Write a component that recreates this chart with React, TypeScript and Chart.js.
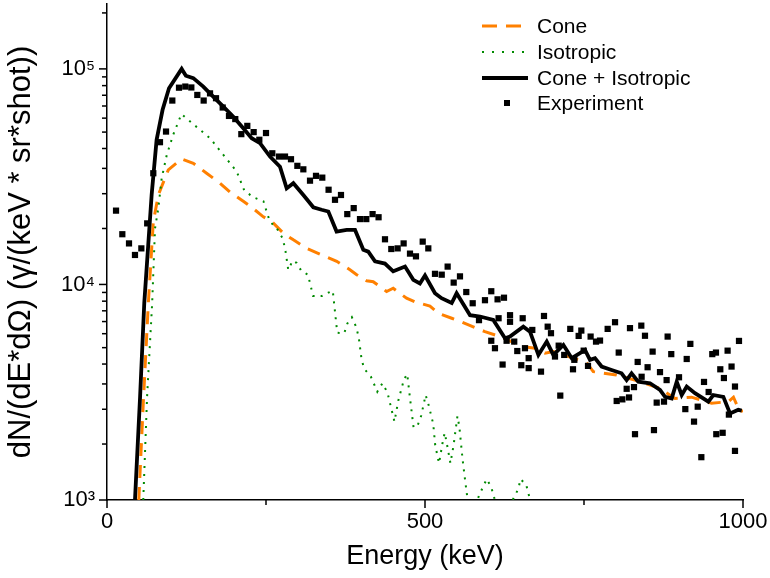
import React, { useEffect, useRef } from 'react';
import { Chart, registerables } from 'chart.js';

Chart.register(...registerables);

// ---------- data ----------
const coneEnergy = [50, 57, 65, 72.8, 80.7, 96.4, 117.3, 135.7, 156.6, 177.7, 193.4, 214.3, 227.5, 245.8, 258.9, 277.2, 293, 314, 342.8, 361.2, 382, 392.6, 408.3, 418.6, 439.6, 450, 471, 484.3, 507.8, 521, 542, 557.7, 581.3, 594.3, 617.9, 654.6, 673, 688.7, 701.8, 717.6, 754, 764.6, 801, 830, 869, 893, 919, 950.6, 977, 985, 995, 1000];
const coneValue = [1000, 2800, 8200, 19500, 26000, 34000, 38200, 36500, 32800, 29500, 26800, 24300, 22800, 20600, 19600, 17300, 16100, 14700, 13500, 12800, 11700, 11100, 10400, 10300, 9270, 9600, 8630, 8300, 7940, 7350, 6970, 6700, 6260, 6040, 5730, 5140, 5060, 4800, 4880, 4710, 4340, 3940, 3800, 3600, 3300, 2960, 3000, 2810, 2860, 3000, 2570, 2600];

const isoEnergy = [57, 63, 71, 75.5, 80.7, 86, 94, 104, 117, 137, 162, 183, 204, 216, 231, 246, 251, 256, 267, 276, 280, 285, 292, 298, 306, 316, 324, 338, 348, 355, 362, 373, 378, 385, 392, 396, 400, 404, 415, 425, 433, 441, 445, 452, 458, 467, 472, 476, 482, 488, 494, 501, 505, 513, 516, 522, 528, 531, 534, 540, 545, 551, 554, 559, 563, 568, 577, 585, 597, 604, 612, 630, 647, 650, 659, 666, 700, 760, 830, 900, 1000];
const isoValue = [1000, 3000, 8200, 18200, 22600, 31100, 39900, 49400, 61700, 55000, 47700, 39900, 33400, 27200, 25300, 24300, 21800, 19600, 18200, 16400, 14700, 11700, 12900, 12600, 11500, 11100, 8850, 8850, 9160, 9350, 5970, 5940, 6600, 7050, 6330, 5630, 4550, 4080, 3730, 3180, 3480, 3150, 2810, 2310, 2890, 3630, 3840, 3040, 2170, 2200, 2460, 3070, 2810, 2250, 1800, 1480, 1870, 2050, 1850, 1480, 1800, 2450, 2190, 1550, 1240, 950, 900, 1050, 1250, 1150, 950, 900, 1130, 1250, 1180, 980, 800, 700, 600, 500, 400];

const sumEnergy = [44, 52, 58.6, 70.2, 78, 87.4, 97.5, 117.4, 124, 135.7, 151.4, 167, 182.9, 198.6, 214.3, 227.5, 240.6, 256.3, 272, 282.5, 293, 308.7, 324.4, 337.4, 348, 361, 376.9, 390, 403, 410.8, 421.4, 437, 450, 468.6, 481.6, 492, 500, 515.7, 526, 542, 549.7, 570.8, 586.5, 607.4, 625.8, 633.6, 654.6, 665.1, 678.3, 691.4, 701.8, 717.6, 730.7, 743.7, 751.6, 759.4, 767.3, 777.7, 793.4, 809.1, 817, 824.8, 835.3, 853.8, 869.5, 877.4, 887.9, 895.8, 903.6, 911.5, 924.5, 945.5, 953.3, 969.1, 979.6, 992.6, 998];
const sumValue = [1000, 3000, 8200, 26000, 46900, 64600, 81300, 100000, 93000, 90600, 82800, 74300, 66800, 60000, 53000, 47700, 45200, 39200, 35200, 27900, 29500, 26000, 22800, 22200, 21800, 17600, 17900, 17900, 14500, 14200, 12800, 12500, 11500, 12100, 10500, 10100, 11000, 9100, 8630, 8200, 9100, 7200, 7100, 6850, 5630, 5730, 6370, 6040, 4710, 5430, 4710, 5240, 4550, 4800, 4970, 4470, 4550, 4160, 4010, 3870, 3600, 3870, 3540, 3480, 3240, 3010, 2960, 3540, 3070, 3360, 3130, 2860, 3070, 3010, 2520, 2620, 2600];

const expEnergy = [14.2, 24.1, 34.6, 44, 54, 63.2, 72.8, 83.3, 92.8, 102.7, 113.2, 123.1, 132.6, 142, 152, 162, 171.4, 181.9, 191.8, 201.7, 211.2, 220.6, 230.6, 239.5, 250, 259.9, 270.4, 279.9, 289.3, 299.3, 308.7, 319.2, 328.6, 338.5, 348.4, 358.5, 367.9, 377.8, 387.9, 397.8, 407.7, 417.6, 427, 437.1, 447, 457, 466.4, 476.4, 485.8, 496.4, 505.2, 515.7, 526.3, 535.6, 545.1, 555, 564.9, 575, 584.9, 594.3, 604.2, 604.2, 610, 614.1, 615.7, 622, 624.2, 628.3, 633.7, 633.7, 640.3, 645.1, 651.4, 653.6, 657.2, 663, 663, 668.7, 682.4, 687.1, 692.9, 698.1, 704.4, 710.2, 712.7, 718.9, 728.4, 732.7, 734.8, 741.6, 745.8, 749.5, 756.3, 760.4, 768.9, 775.2, 787.2, 798.8, 801.4, 804.6, 810.3, 817.1, 820.8, 822.3, 828.6, 830.2, 834.4, 840.1, 840.6, 845.9, 850, 857.9, 860, 864.3, 869.5, 875.8, 879.9, 881.5, 887.2, 899.4, 909.3, 911.5, 917.2, 923, 928.8, 934.5, 938.7, 946, 951.7, 957.5, 958, 964.3, 968, 970, 975.8, 977.8, 982, 987.4, 987.4, 993.7];
const expValue = [22000, 17100, 15500, 13700, 14700, 19200, 32800, 45700, 51200, 71300, 81800, 82800, 82000, 75700, 71300, 77000, 73100, 66200, 60500, 58500, 49800, 54400, 50900, 46900, 50400, 40600, 39200, 39200, 38100, 35500, 34200, 30300, 31900, 31300, 27500, 24700, 26000, 21200, 22600, 20100, 20100, 21200, 20500, 16200, 14600, 14700, 15500, 13900, 13500, 15800, 14700, 11200, 11100, 12100, 10200, 10900, 9220, 8180, 6830, 8450, 9300, 5480, 5060, 8530, 6970, 4250, 8680, 5480, 7200, 6710, 5430, 4910, 4220, 6970, 5060, 4550, 4090, 6150, 3940, 7140, 6370, 5940, 4630, 5200, 3050, 4710, 6220, 4040, 4470, 5770, 6110, 4930, 4190, 5730, 5430, 5490, 6220, 6680, 2880, 4830, 2930, 3280, 2990, 6270, 3340, 2020, 4370, 6440, 3730, 5780, 4130, 4880, 2110, 2830, 3920, 2860, 3600, 5730, 4750, 3710, 2640, 4510, 5300, 2310, 2710, 1580, 3530, 3170, 4750, 4830, 2020, 4040, 2050, 3680, 4930, 2490, 4160, 3360, 1690, 5470];

const seriesLabels = ['Cone', 'Isotropic', 'Cone + Isotropic', 'Experiment'];
const xTickValues = [0, 500, 1000];
const xMinorTickValues = [250, 750];
const yTickValues = [1000, 10000, 100000];
const yTickLabels = ['10\u00B3', '10\u2074', '10\u2075'];
const xTitle = 'Energy (keV)';
const yTitle = 'dN/(dE*d\u03A9) (\u03B3/(keV * sr*shot))';

// ---------- styling ----------
const FONT = "'Liberation Sans', Arial, Helvetica, sans-serif";
const ORANGE = '#ff8000';
const GREEN = '#008a00';
const BLACK = '#000000';

const toPoints = (xs: number[], ys: number[]) => xs.map((x, i) => ({ x, y: ys[i] }));

const tickPlugin = {
  id: 'originTicks',
  afterDraw(chart: any) {
    const { ctx, chartArea } = chart;
    const xs = chart.scales.x;
    const ys = chart.scales.y;
    ctx.save();
    ctx.strokeStyle = BLACK;
    ctx.lineWidth = 1.5;
    ctx.setLineDash([]);
    const seg = (x1: number, y1: number, x2: number, y2: number) => {
      ctx.beginPath();
      ctx.moveTo(x1, y1);
      ctx.lineTo(x2, y2);
      ctx.stroke();
    };
    xTickValues.forEach((v) => {
      const p = xs.getPixelForValue(v);
      seg(p, chartArea.bottom, p, chartArea.bottom + 8);
    });
    xMinorTickValues.forEach((v) => {
      const p = xs.getPixelForValue(v);
      seg(p, chartArea.bottom, p, chartArea.bottom + 5);
    });
    yTickValues.forEach((v) => {
      const p = ys.getPixelForValue(v);
      seg(chartArea.left, p, chartArea.left - 8, p);
    });
    const yMax = ys.max;
    yTickValues.forEach((decade) => {
      for (let k = 1; k <= 10; k++) {
        const v = decade * (1 + (9 * k) / 11);
        if (v > yMax) break;
        const p = ys.getPixelForValue(v);
        seg(chartArea.left, p, chartArea.left - 5, p);
      }
    });
    ctx.restore();
  },
};

const legendPlugin = {
  id: 'insideLegend',
  afterDraw(chart: any) {
    const { ctx } = chart;
    const rows = [26, 52, 78, 103];
    const x0 = 482;
    const textX = 537;
    ctx.save();
    ctx.strokeStyle = ORANGE;
    ctx.lineWidth = 3;
    ctx.setLineDash([15, 9]);
    ctx.beginPath();
    ctx.moveTo(x0, rows[0]);
    ctx.lineTo(x0 + 40, rows[0]);
    ctx.stroke();
    ctx.strokeStyle = GREEN;
    ctx.lineWidth = 2;
    ctx.setLineDash([2, 8]);
    ctx.beginPath();
    ctx.moveTo(x0, rows[1]);
    ctx.lineTo(x0 + 44, rows[1]);
    ctx.stroke();
    ctx.setLineDash([]);
    ctx.strokeStyle = BLACK;
    ctx.lineWidth = 4;
    ctx.beginPath();
    ctx.moveTo(x0, rows[2]);
    ctx.lineTo(x0 + 46, rows[2]);
    ctx.stroke();
    ctx.fillStyle = BLACK;
    ctx.fillRect(504, rows[3] - 3, 6, 6);
    ctx.font = `21px ${FONT}`;
    ctx.textBaseline = 'middle';
    ctx.textAlign = 'left';
    seriesLabels.forEach((t, i) => ctx.fillText(t, textX, rows[i] + 1));
    ctx.restore();
  },
};

export default function App() {
  const canvasRef = useRef<HTMLCanvasElement | null>(null);

  useEffect(() => {
    const canvas = canvasRef.current;
    if (!canvas) return;
    const chart = new Chart(canvas, {
      type: 'line',
      data: {
        datasets: [
          {
            type: 'scatter',
            label: seriesLabels[3],
            data: toPoints(expEnergy, expValue),
            pointStyle: 'rect',
            pointRadius: 4.4,
            pointBorderWidth: 0,
            backgroundColor: BLACK,
            borderColor: BLACK,
            showLine: false,
          },
          {
            label: seriesLabels[2],
            data: toPoints(sumEnergy, sumValue),
            borderColor: BLACK,
            borderWidth: 3.8,
            pointRadius: 0,
            tension: 0,
            fill: false,
          },
          {
            label: seriesLabels[1],
            data: toPoints(isoEnergy, isoValue),
            borderColor: GREEN,
            borderWidth: 2,
            borderDash: [2, 6],
            pointRadius: 0,
            tension: 0,
            fill: false,
          },
          {
            label: seriesLabels[0],
            data: toPoints(coneEnergy, coneValue),
            borderColor: ORANGE,
            borderWidth: 3,
            borderDash: [13, 9],
            pointRadius: 0,
            tension: 0,
            fill: false,
          },
        ],
      },
      options: {
        responsive: false,
        animation: false,
        devicePixelRatio: 1,
        layout: { autoPadding: false, padding: { left: 0, right: 27, top: 4, bottom: 0 } },
        plugins: {
          legend: { display: false },
          tooltip: { enabled: false },
        },
        scales: {
          x: {
            type: 'linear',
            min: 0,
            max: 1000,
            afterBuildTicks: (scale: any) => {
              scale.ticks = xTickValues.map((v) => ({ value: v }));
            },
            afterFit: (scale: any) => {
              scale.height = 78;
              scale.paddingLeft = 0;
              scale.paddingRight = 0;
            },
            ticks: {
              autoSkip: false,
              maxRotation: 0,
              padding: 9,
              color: BLACK,
              font: { family: FONT, size: 22 },
              callback: (v: any) => String(v),
            },
            grid: { display: false, drawTicks: false },
            border: { display: true, color: BLACK, width: 1.5 },
            title: {
              display: true,
              text: xTitle,
              color: BLACK,
              font: { family: FONT, size: 27 },
              padding: { top: 0, bottom: 5 },
            },
          },
          y: {
            type: 'logarithmic',
            min: 1000,
            max: 200000,
            afterBuildTicks: (scale: any) => {
              scale.ticks = yTickValues.map((v) => ({ value: v }));
            },
            afterFit: (scale: any) => {
              scale.width = 107;
              scale.paddingTop = 0;
              scale.paddingBottom = 0;
            },
            ticks: {
              autoSkip: false,
              padding: 12,
              color: BLACK,
              font: { family: FONT, size: 22 },
              callback: (v: any) => {
                const i = yTickValues.indexOf(Number(v));
                return i >= 0 ? yTickLabels[i] : '';
              },
            },
            grid: { display: false, drawTicks: false },
            border: { display: true, color: BLACK, width: 1.5 },
            title: {
              display: true,
              text: yTitle,
              color: BLACK,
              font: { family: FONT, size: 31 },
              padding: { top: 3, bottom: 0 },
            },
          },
        },
      },
      plugins: [tickPlugin, legendPlugin],
    } as any);
    return () => chart.destroy();
  }, []);

  return (
    <div style={{ position: 'fixed', left: 0, top: 0, width: 770, height: 578, background: '#fff' }}>
      <canvas ref={canvasRef} width={770} height={578} style={{ display: 'block' }} />
    </div>
  );
}
